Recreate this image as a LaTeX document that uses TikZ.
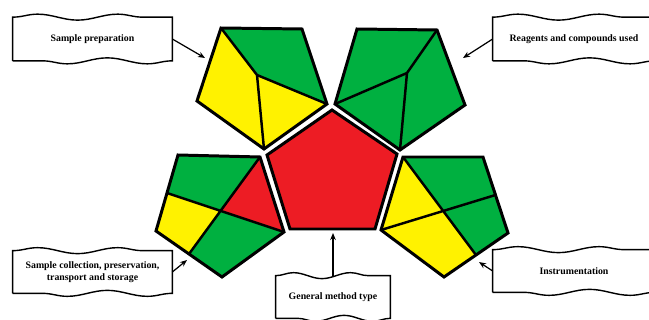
\documentclass[tikz,border=0pt]{standalone}
\usepackage{fontspec}
\setmainfont{Liberation Serif}
\usetikzlibrary{positioning, calc, arrows.meta, decorations.pathmorphing}

\definecolor{gapiGreen}{RGB}{0,176,64}
\definecolor{gapiYellow}{RGB}{255,242,0}
\definecolor{gapiRed}{RGB}{237,28,36}

\begin{document}
\begin{tikzpicture}[
    x=0.02cm, y=-0.02cm,
    banner/.style={inner sep=0pt, minimum height=0.86cm, align=center, font=\fontsize{5.6}{7}\selectfont\bfseries},
    wavy/.style={draw, line width=0.8pt, decoration={snake, segment length=#1, amplitude=1.7pt}},
    divider/.style={line width=1.4pt},
    rim/.style={line width=1.7pt, line join=miter},
    arrow/.style={-{Stealth[length=4pt, width=3.2pt]}, line width=0.7pt}
]
\useasboundingbox (0,0) rectangle (649,320);

% ----------------- 1. pentagon corners -----------------
% centre (general method type)
\coordinate (m1) at (332,110);
\coordinate (m2) at (397,154);
\coordinate (m3) at (375,229);
\coordinate (m4) at (290,229);
\coordinate (m5) at (267,155);
% top left (sample preparation)
\coordinate (p1) at (221,28);
\coordinate (p2) at (302,29);
\coordinate (p3) at (327,104);
\coordinate (p4) at (264,149);
\coordinate (p5) at (197,101);
\coordinate (p0) at (257,75);
% top right (reagents)
\coordinate (r1) at (357,29);
\coordinate (r2) at (437,30);
\coordinate (r3) at (465,105);
\coordinate (r4) at (400,150);
\coordinate (r5) at (335,104);
\coordinate (r0) at (407,73);
% bottom left (collection)
\coordinate (c1) at (178,155);
\coordinate (c2) at (260,157);
\coordinate (c3) at (284,232);
\coordinate (c4) at (222,277);
\coordinate (c5) at (156,231);
\coordinate (ca) at ($(c5)!0.5!(c1)$);
\coordinate (cb) at ($(c4)!0.5!(c5)$);
\coordinate (c0) at (intersection of ca--c3 and cb--c2);
% bottom right (instrumentation)
\coordinate (i1) at (403,157);
\coordinate (i2) at (483,157);
\coordinate (i3) at (508,233);
\coordinate (i4) at (444,277);
\coordinate (i5) at (381,230);
\coordinate (ia) at ($(i2)!0.5!(i3)$);
\coordinate (ib) at ($(i3)!0.5!(i4)$);
\coordinate (i0) at (intersection of i1--ib and i5--ia);

% ----------------- 2. coloured fields -----------------
\fill[gapiRed] (m1) -- (m2) -- (m3) -- (m4) -- (m5) -- cycle;

\fill[gapiGreen]  (p1) -- (p2) -- (p3) -- (p0) -- cycle;
\fill[gapiYellow] (p1) -- (p0) -- (p4) -- (p5) -- cycle;
\fill[gapiYellow] (p0) -- (p3) -- (p4) -- cycle;

\fill[gapiGreen] (r1) -- (r2) -- (r3) -- (r4) -- (r5) -- cycle;

\fill[gapiGreen]  (c1) -- (c2) -- (c0) -- (ca) -- cycle;
\fill[gapiRed]    (c2) -- (c3) -- (c0) -- cycle;
\fill[gapiGreen]  (c0) -- (c3) -- (c4) -- (cb) -- cycle;
\fill[gapiYellow] (ca) -- (c0) -- (cb) -- (c5) -- cycle;

\fill[gapiGreen]  (i1) -- (i2) -- (ia) -- (i0) -- cycle;
\fill[gapiGreen]  (i0) -- (ia) -- (i3) -- (ib) -- cycle;
\fill[gapiYellow] (i5) -- (i0) -- (ib) -- (i4) -- cycle;
\fill[gapiYellow] (i1) -- (i0) -- (i5) -- cycle;

% ----------------- 3. dividing lines and rims -----------------
\draw[divider] (p1) -- (p0) -- (p3) (p0) -- (p4);
\draw[divider] (r2) -- (r0) -- (r5) (r0) -- (r4);
\draw[divider] (ca) -- (c3) (c2) -- (cb);
\draw[divider] (i1) -- (ib) (i5) -- (ia);

\draw[rim] (m1) -- (m2) -- (m3) -- (m4) -- (m5) -- cycle;
\draw[rim] (p1) -- (p2) -- (p3) -- (p4) -- (p5) -- cycle;
\draw[rim] (r1) -- (r2) -- (r3) -- (r4) -- (r5) -- cycle;
\draw[rim] (c1) -- (c2) -- (c3) -- (c4) -- (c5) -- cycle;
\draw[rim] (i1) -- (i2) -- (i3) -- (i4) -- (i5) -- cycle;

% ----------------- 4. banners -----------------
\node[banner, minimum width=3.18cm] (prep) at (92.5,39)  {Sample preparation};
\node[banner, minimum width=3.24cm] (reag) at (574,39)   {Reagents and compounds used};
\node[banner, minimum width=3.18cm, minimum height=0.84cm] (coll) at (92.5,272)
    {Sample collection, preservation,\\ transport and storage};
\node[banner, minimum width=3.24cm, minimum height=0.84cm] (inst) at (574,271) {Instrumentation};
\node[banner, minimum width=2.28cm, minimum height=0.84cm] (type) at (333,297) {General method type};

\draw[wavy=1.6cm]  (prep.south west) -- (prep.north west) decorate{-- (prep.north east)} -- (prep.south east) decorate{-- (prep.south west)};
\draw[wavy=1.62cm] (reag.south west) -- (reag.north west) decorate{-- (reag.north east)} -- (reag.south east) decorate{-- (reag.south west)};
\draw[wavy=1.6cm]  (coll.south west) -- (coll.north west) decorate{-- (coll.north east)} -- (coll.south east) decorate{-- (coll.south west)};
\draw[wavy=1.62cm] (inst.south west) -- (inst.north west) decorate{-- (inst.north east)} -- (inst.south east) decorate{-- (inst.south west)};
\draw[wavy=1.14cm] (type.south west) -- (type.north west) decorate{-- (type.north east)} -- (type.south east) decorate{-- (type.south west)};

% ----------------- 5. arrows -----------------
\coordinate (prepin) at (205,58);
\coordinate (reagin) at (463,58);
\coordinate (collin) at (187,260);
\coordinate (instin) at (479,262);
\coordinate (typein) at (333,233);

\draw[arrow] (prep.east)  -- (prepin);
\draw[arrow] (reag.west)  -- (reagin);
\draw[arrow] (coll.east)  -- (collin);
\draw[arrow] (inst.west)  -- (instin);
\draw[arrow] (type.north) -- (typein);

\end{tikzpicture}
\end{document}
